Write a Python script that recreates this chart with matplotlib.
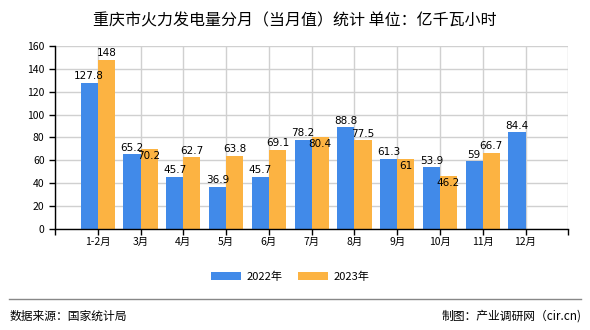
import matplotlib.pyplot as plt
import numpy as np
from matplotlib.lines import Line2D
from matplotlib.patches import Patch

plt.rcParams['font.family'] = ['Noto Sans CJK SC', 'DejaVu Sans']

# 数据
meses = ['1-2月', '3月', '4月', '5月', '6月', '7月', '8月', '9月', '10月', '11月', '12月']
v2022 = [127.8, 65.2, 45.7, 36.9, 45.7, 78.2, 88.8, 61.3, 53.9, 59, 84.4]
v2023 = [148, 70.2, 62.7, 63.8, 69.1, 80.4, 77.5, 61, 46.2, 66.7, None]
series_names = ['2022年', '2023年']

cor_azul = '#418AE9'
cor_laranja = '#FCB342'

fig = plt.figure(figsize=(5.9, 3.3), dpi=100)
ax = fig.add_axes([0.0932, 0.306, 0.870, 0.555])

x = np.arange(1, len(meses) + 1)
w = 0.4

ax.bar(x - w / 2, v2022, width=w, color=cor_azul, zorder=3)
x23 = [xi for xi, v in zip(x, v2023) if v is not None]
y23 = [v for v in v2023 if v is not None]
ax.bar(np.array(x23) + w / 2, y23, width=w, color=cor_laranja, zorder=3)

# Rótulos
def fmt(v):
    return f'{v:g}'

for xi, v in zip(x, v2022):
    ax.text(xi - w / 2, v + 1.5, fmt(v), ha='center', va='bottom',
            fontsize=7.5, family='DejaVu Sans', zorder=4)

for xi, v, a in zip(x, v2023, v2022):
    if v is None:
        continue
    diff = v - a
    if -10 < diff < 6:
        ax.text(xi + w / 2, v - 2, fmt(v), ha='center', va='top',
                fontsize=7.5, family='DejaVu Sans', zorder=4)
    else:
        ax.text(xi + w / 2, v + 1.5, fmt(v), ha='center', va='bottom',
                fontsize=7.5, family='DejaVu Sans', zorder=4)

ax.set_xlim(0, 12)
ax.set_ylim(0, 160)
ax.set_yticks(np.arange(0, 161, 20))
ax.set_xticks(np.arange(0, 13))
ax.set_xticklabels([''] + meses + [''])
ax.tick_params(axis='both', labelsize=7.5, length=4, width=1, color='black')
ax.tick_params(axis='x', pad=2)

ax.grid(True, color='#d0d0d0', linewidth=1, zorder=0)
for s in ['top', 'right']:
    ax.spines[s].set_visible(False)
for s in ['left', 'bottom']:
    ax.spines[s].set_color('black')
    ax.spines[s].set_linewidth(1)
    ax.spines[s].set_zorder(5)

# Título
fig.text(0.5, 0.935, '重庆市火力发电量分月（当月值）统计 单位：亿千瓦小时',
         ha='center', va='center', fontsize=11.5)

# Legenda
handles = [Patch(facecolor=c, edgecolor='none') for c in (cor_azul, cor_laranja)]
fig.legend(handles, series_names, loc='center', bbox_to_anchor=(0.492, 0.162),
           ncol=2, frameon=False, fontsize=8, handlelength=2.7, handleheight=0.8,
           columnspacing=1.4, handletextpad=0.5)

# Rodapé
fig.add_artist(Line2D([0.015, 0.985], [0.095, 0.095], color='#888888', linewidth=1))
fig.text(0.017, 0.042, '数据来源：国家统计局', ha='left', va='center', fontsize=8.5)
fig.text(0.985, 0.042, '制图：产业调研网（cir.cn)', ha='right', va='center', fontsize=8.5)

fig.savefig('out.png', dpi=100)
